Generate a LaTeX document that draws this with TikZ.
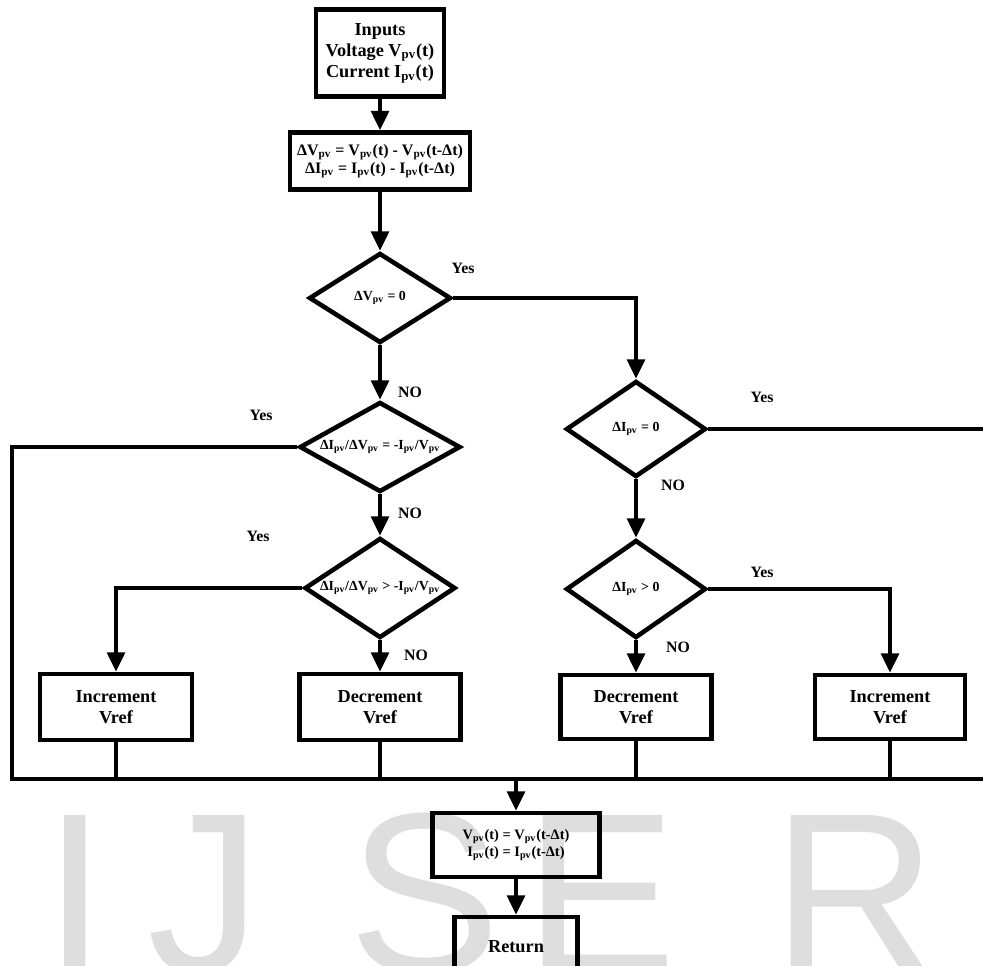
\documentclass[tikz,border=0pt]{standalone}
\usepackage{fontspec}
\setmainfont{Liberation Serif}
\newfontfamily\wmfont{Liberation Sans}
\usepackage{tikz}
\usetikzlibrary{arrows,arrows.meta,shapes}

\newcommand{\pv}{\textsubscript{pv}}

\tikzset{
  box/.style={draw, line width=2.6pt, align=center, inner sep=0pt,
    font=\bfseries\fontsize{10.4}{12}\selectfont},
  decide/.style={draw, diamond, aspect=1.6, line width=2.6pt, inner sep=0pt,
    font=\bfseries\fontsize{7.9}{9}\selectfont},
  lbl/.style={font=\bfseries\fontsize{9}{10}\selectfont},
  wire/.style={line width=2.3pt},
  flow/.style={wire, -{Triangle[width=10pt,length=11pt]}},
  wmark/.style={anchor=base, text=black!13, font=\wmfont\fontsize{130}{130}\selectfont}
}

\begin{document}
\begin{tikzpicture}[x=0.02cm, y=-0.02cm]
        \clip (0,0) rectangle (983,965);
        \useasboundingbox (0,0) rectangle (983,965);
        % watermark
        \node[wmark] (wI) at (75,972) {I};
        \node[wmark] (wJ) at (205,972) {J};
        \node[wmark] (wS) at (425,972) {S};
        \node[wmark] (wE) at (601,972) {E};
        \node[wmark] (wR) at (855,972) {R};

        \node[box, minimum width=2.56cm, minimum height=1.74cm] (inp) at (380,53)
            {Inputs\\Voltage V\pv(t)\\Current I\pv(t)};
        \node[box, minimum width=3.6cm, minimum height=1.14cm, font=\bfseries\fontsize{9.1}{10.5}\selectfont] (diff) at (380,161)
            {ΔV\pv{} = V\pv(t) - V\pv(t-Δt)\\ΔI\pv{} = I\pv(t) - I\pv(t-Δt)};
        \node[decide, minimum width=2.84cm, minimum height=1.8cm] (dv) at (380,298) {ΔV\pv{} = 0};
        \node[decide, aspect=1.8, minimum width=3.22cm, minimum height=1.8cm] (eq) at (380,447) {ΔI\pv/ΔV\pv{} = -I\pv/V\pv};
        \node[decide, minimum width=3.02cm, minimum height=2.0cm] (gt) at (380,588) {ΔI\pv/ΔV\pv{} > -I\pv/V\pv};
        \node[decide, minimum width=2.8cm, minimum height=1.92cm] (di) at (636,429) {ΔI\pv{} = 0};
        \node[decide, minimum width=2.8cm, minimum height=1.96cm] (pos) at (636,589) {ΔI\pv{} > 0};

        \node[box, minimum width=3.04cm, minimum height=1.32cm] (incL) at (116,707) {Increment\\Vref};
        \node[box, minimum width=3.22cm, minimum height=1.32cm] (decL) at (380,707) {Decrement\\Vref};
        \node[box, minimum width=3.02cm, minimum height=1.28cm] (decR) at (636,707) {Decrement\\Vref};
        \node[box, minimum width=3.0cm, minimum height=1.28cm] (incR) at (890,707) {Increment\\Vref};
        \node[box, minimum width=3.34cm, minimum height=1.28cm, font=\bfseries\fontsize{8.2}{10}\selectfont] (upd) at (516,845)
            {V\pv(t) = V\pv(t-Δt)\\I\pv(t) = I\pv(t-Δt)};
        \node[box, minimum width=2.46cm, minimum height=1.2cm] (ret) at (516,947) {Return};

        \coordinate (busL) at (12,779);
        \coordinate (busR) at (990,779);
        \coordinate (busM) at (516,779);
        \coordinate (edgeR) at (990,429);

        \node[lbl] (y1) at (463,268) {Yes};
        \node[lbl] (n1) at (410,392) {NO};
        \node[lbl] (y2) at (261,415) {Yes};
        \node[lbl] (n2) at (410,513) {NO};
        \node[lbl] (y3) at (258,536) {Yes};
        \node[lbl] (n3) at (416,655) {NO};
        \node[lbl] (y4) at (762,397) {Yes};
        \node[lbl] (n4) at (673,485) {NO};
        \node[lbl] (y5) at (762,572) {Yes};
        \node[lbl] (n5) at (678,647) {NO};

        \draw[flow] (inp) -- (diff);
        \draw[flow] (diff) -- (dv);
        \draw[flow] (dv) -- (eq);
        \draw[flow] (eq) -- (gt);
        \draw[flow] (gt) -- (decL);
        \draw[flow] (dv.east) -| (di.north);
        \draw[flow] (di) -- (pos);
        \draw[flow] (pos) -- (decR);
        \draw[flow] (gt.west) -| (incL.north);
        \draw[flow] (pos.east) -| (incR.north);
        \draw[wire] (eq.west) -| (busL) -- (busR);
        \draw[wire] (di.east) -- (edgeR);
        \foreach \b in {incL, decL, decR, incR}
            \draw[wire] (\b.south) -- (\b.south |- busL);
        \draw[flow] (busM) -- (upd);
        \draw[flow] (upd) -- (ret);
    \end{tikzpicture}
\end{document}
